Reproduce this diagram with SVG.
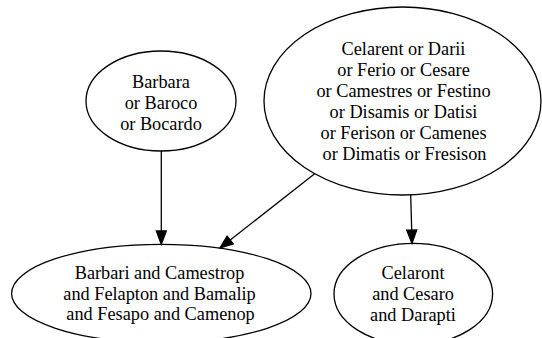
<svg xmlns="http://www.w3.org/2000/svg" width="542" height="338" viewBox="0 0 542 338">
<defs>
<style>
.n ellipse{fill:none;stroke:#000;stroke-width:1.3}
.e line{stroke:#000;stroke-width:1.3}
.e polygon{fill:#000;stroke:#000;stroke-width:1.3}
</style>
</defs>
<rect width="542" height="338" fill="#fff"/>
<g id="edges" class="e">
<line x1="161.3" y1="151" x2="161.3" y2="231"/>
<polygon points="156.3,231 166.3,231 161.3,244.3"/>
<line x1="315" y1="173.5" x2="230.2" y2="240"/>
<polygon points="227.1,236.1 233.3,243.9 220,248"/>
<line x1="410.7" y1="195" x2="411.7" y2="230"/>
<polygon points="406.7,230.2 416.7,229.9 412,243.3"/>
</g>
<g id="barbara" class="n">
<ellipse cx="161" cy="101" rx="75" ry="50"/>
<g font-family="Liberation Serif" font-size="18.3" text-anchor="middle" fill="#000">
<text x="161" y="88">Barbara</text>
<text x="161" y="109">or Baroco</text>
<text x="161" y="130">or Bocardo</text>
</g>
</g>
<g id="celarent" class="n">
<ellipse cx="402.5" cy="101" rx="138.5" ry="94"/>
<g font-family="Liberation Serif" font-size="18.3" text-anchor="middle" fill="#000">
<text x="403.5" y="55">Celarent or Darii</text>
<text x="403.5" y="76">or Ferio or Cesare</text>
<text x="403.5" y="97">or Camestres or Festino</text>
<text x="403.5" y="118">or Disamis or Datisi</text>
<text x="403.5" y="138.5">or Ferison or Camenes</text>
<text x="404.5" y="159.5">or Dimatis or Fresison</text>
</g>
</g>
<g id="barbari" class="n">
<ellipse cx="161.3" cy="293.5" rx="149.7" ry="49.2"/>
<g font-family="Liberation Serif" font-size="18.3" text-anchor="middle" fill="#000">
<text x="159.5" y="278.5">Barbari and Camestrop</text>
<text x="159.5" y="299.5">and Felapton and Bamalip</text>
<text x="160.5" y="320">and Fesapo and Camenop</text>
</g>
</g>
<g id="celaront" class="n">
<ellipse cx="413.3" cy="294" rx="79.3" ry="50.7"/>
<g font-family="Liberation Serif" font-size="18.3" text-anchor="middle" fill="#000">
<text x="413" y="279">Celaront</text>
<text x="413" y="300">and Cesaro</text>
<text x="413" y="320.7">and Darapti</text>
</g>
</g>
</svg>
